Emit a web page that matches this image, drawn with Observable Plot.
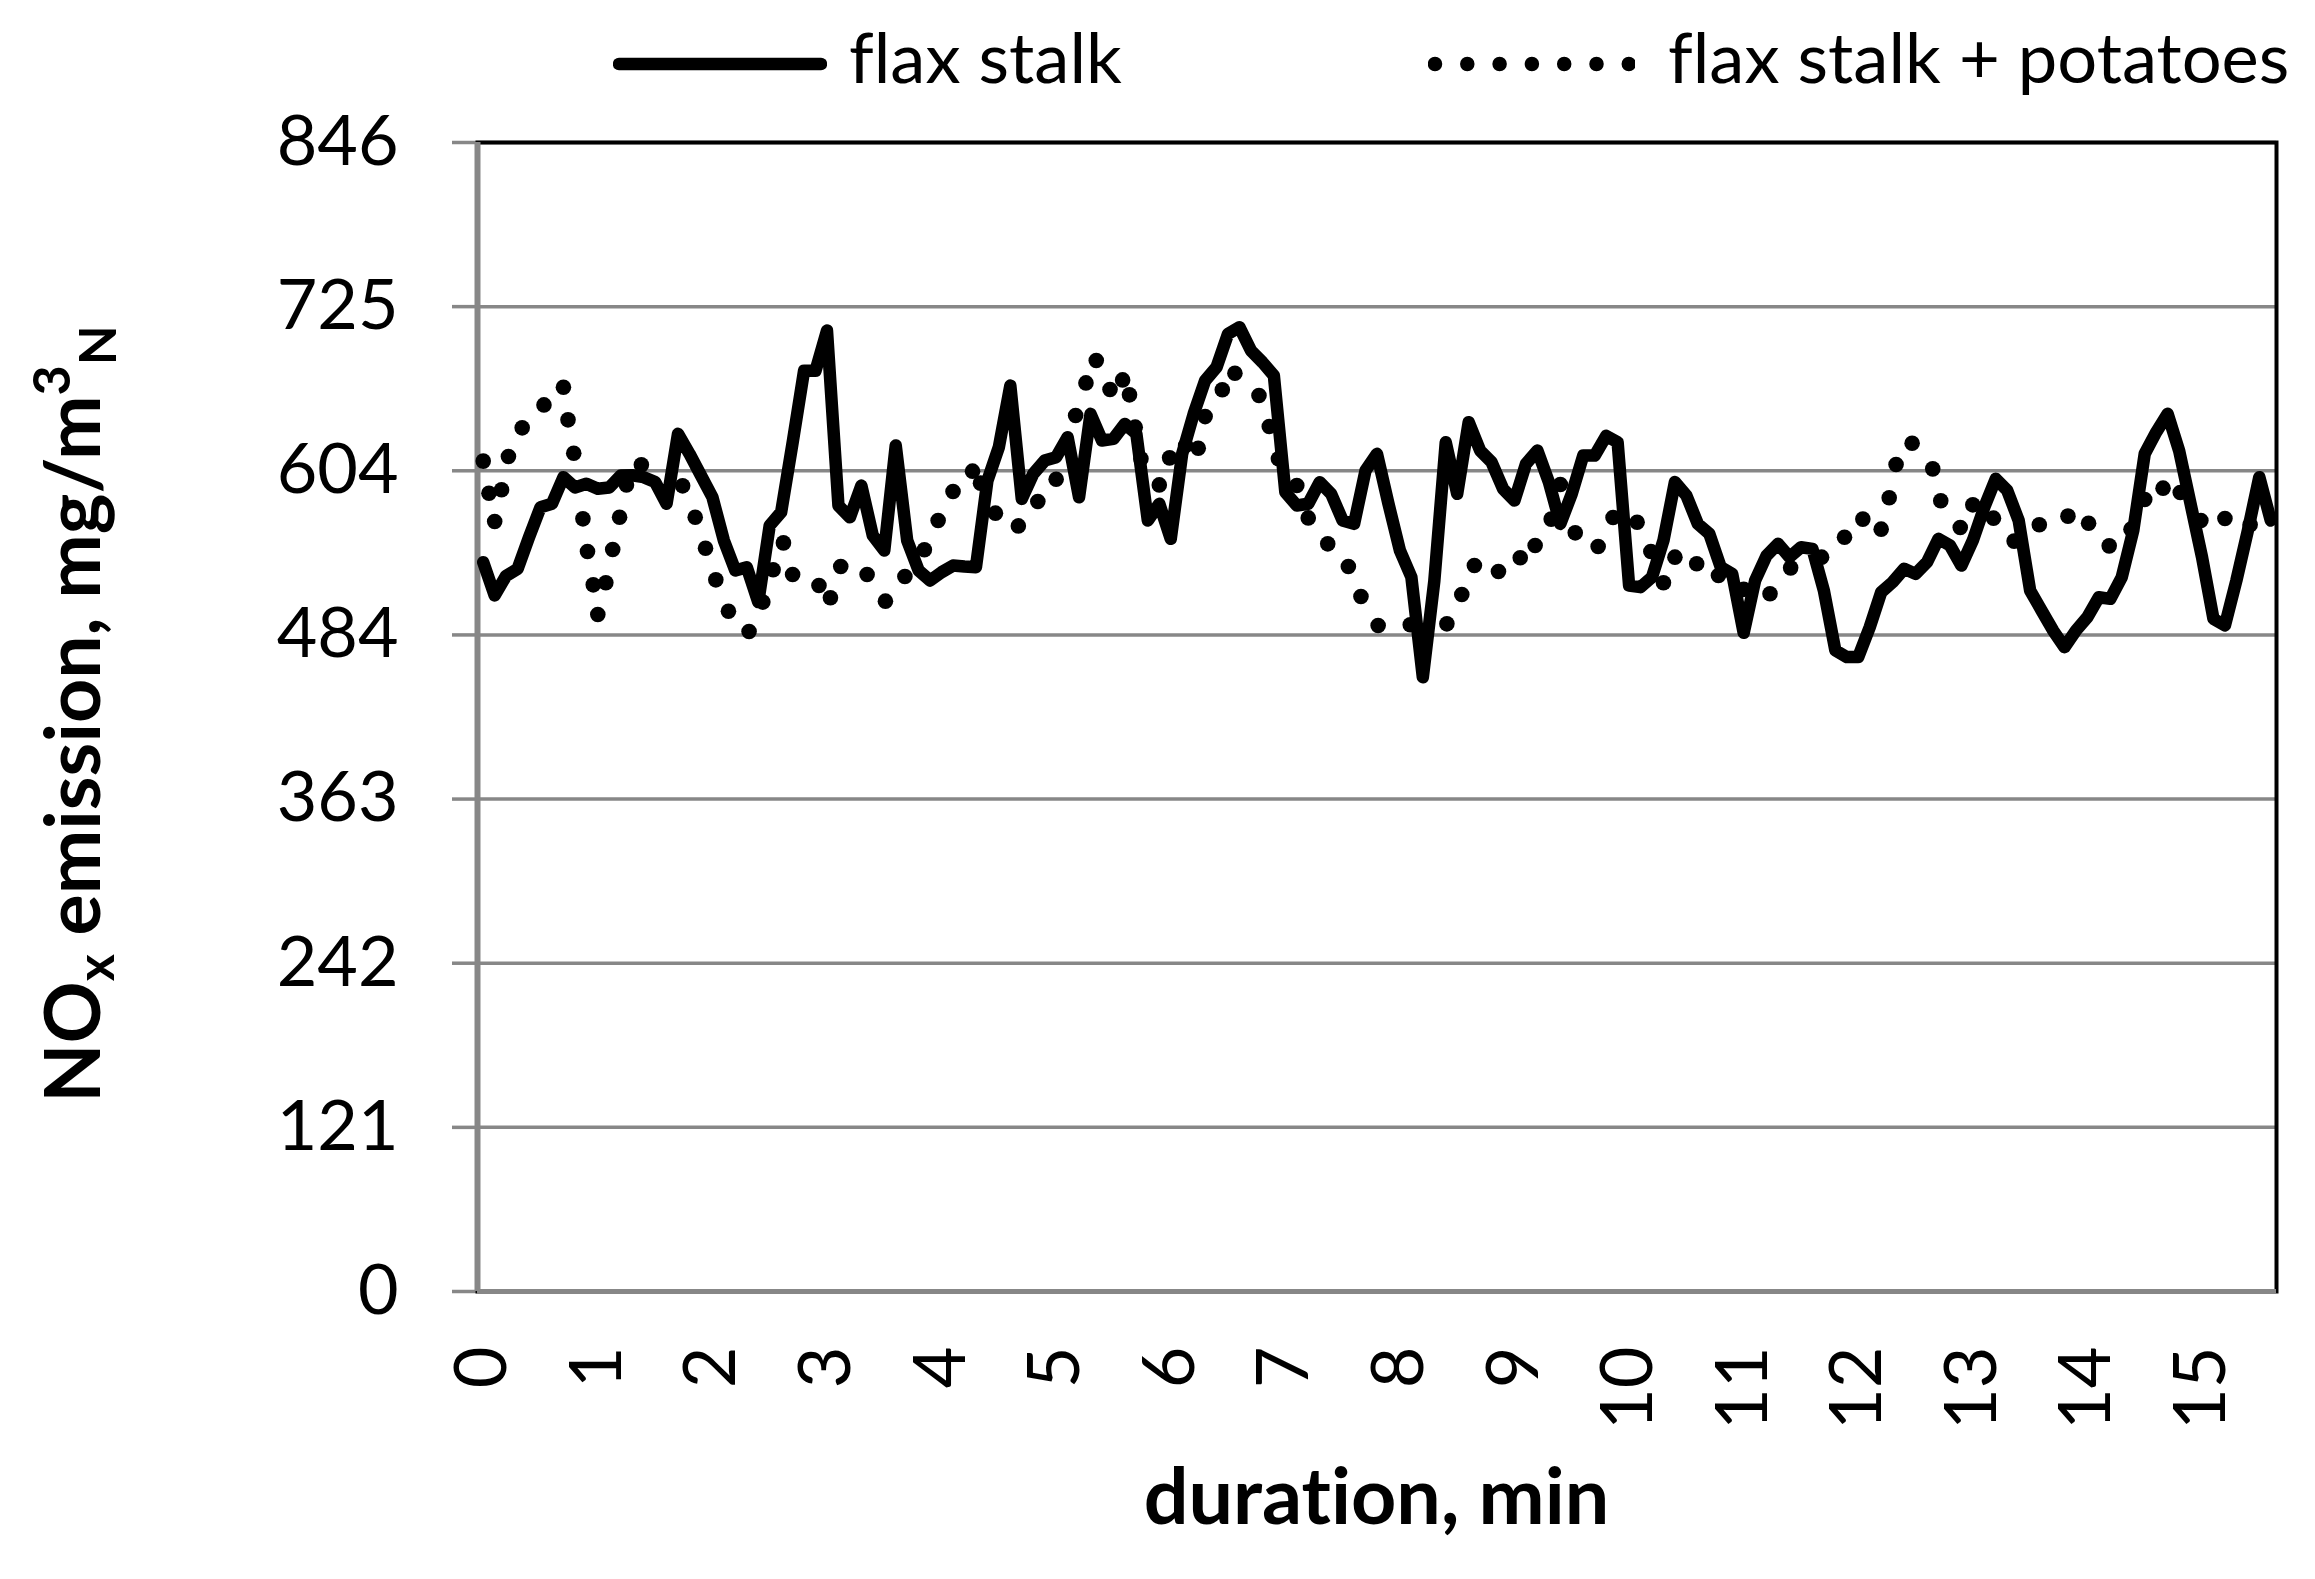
<!DOCTYPE html>
<html><head><meta charset="utf-8">
<script src="https://cdn.jsdelivr.net/npm/d3@7"></script>
<script src="https://cdn.jsdelivr.net/npm/@observablehq/plot@0.6"></script>
<style>
html,body{margin:0;padding:0;background:#fff;width:2315px;height:1579px;overflow:hidden;}
#legend{position:relative;width:2315px;height:110px;font-family:Lato,"Open Sans",sans-serif;font-size:70.5px;color:#000;}
#legend .sw{position:absolute;}
#legend .lab{position:absolute;line-height:1;white-space:nowrap;top:21px;}
#chart svg{display:block;}
*{font-variant-ligatures:none;font-feature-settings:"liga" 0;}
</style></head><body>
<div id="legend"></div>
<div id="chart"></div>
<script>
// ---- data ----
const seriesNames = ["flax stalk", "flax stalk + potatoes"];
const timeStep = 0.1; // min between readings of "flax stalk"
const flaxStalk = [
537,512.5,527,532,555.4,577.5,580,599.6,592,594.7,
591,592,600.8,601,599.6,596,580,631.5,616.8,600.8,
584.9,553,530.9,533.3,507.6,564,573.8,625,678,678,
707.5,578.7,570,593.4,556.6,545.6,622.9,553,530.9,523.5,
529.6,534.5,533.8,533.3,597,621.7,667,583.6,602,611.8,
614.3,629,584.8,646.2,626.6,627.8,638.8,631.5,567.7,580,
554.2,616.8,646.2,670.7,680.6,705.1,710,692.8,684.2,674.4,
588.5,578.7,580,595.9,587.3,567.7,565.2,604.5,616.8,580,
545.6,526,452.3,523,625.3,587.3,640.1,619.2,610.6,591,
582.4,609.4,619.2,595.9,565.2,587.4,615.5,615.5,630,625.3,
519.8,518.6,526,553,596,586.1,565.2,557.9,533.3,528.4,
485,523.5,541.9,550.5,540.7,548,546.8,516.1,472,467.1,
467.1,489.1,514.9,522.3,532.1,528.4,537,554.2,549.3,534.5,
553,577.5,598.4,589.8,567.7,516.1,501.4,486.7,474.4,486.7,
496.5,511.2,510,526,560.3,616.8,632.7,646.2,619.2,580,
540.7,495.3,490.4,523.5,560.3,599.6,567.7
];
const potatoesTime = [
0.00,0.05,0.10,0.16,0.22,0.34,0.53,0.70,0.74,0.79,
0.87,0.91,0.96,1.00,1.07,1.13,1.19,1.25,1.38,1.74,
1.85,1.94,2.03,2.14,2.32,2.44,2.53,2.62,2.70,2.93,
3.03,3.12,3.35,3.51,3.68,3.85,3.97,4.10,4.27,4.34,
4.47,4.67,4.84,5.00,5.17,5.26,5.35,5.47,5.58,5.64,
5.69,5.74,5.90,5.99,6.13,6.24,6.30,6.45,6.56,6.77,
6.86,6.94,7.10,7.20,7.37,7.55,7.66,7.81,8.09,8.41,
8.54,8.65,8.86,9.05,9.18,9.32,9.40,9.53,9.73,9.86,
10.07,10.19,10.30,10.40,10.59,10.78,11.00,11.23,11.41,11.68,
11.88,12.04,12.20,12.27,12.33,12.47,12.65,12.72,12.89,13.00,
13.18,13.36,13.58,13.83,14.01,14.19,14.38,14.50,14.66,14.81,
14.99,15.20,15.42
];
const potatoesValue = [
611.4,587.8,566.9,590.3,614.8,635.9,652.8,665.8,641.8,617.2,
568.9,544.9,520.3,498.5,521.8,546.3,570.1,593.9,608.7,593.2,
570.1,547.3,524,500.9,486,507.6,531.4,551.2,527.9,519.8,
510.8,533.8,527.9,508.3,526.4,546.1,567.7,589,604,595.2,
573.1,563.7,581.7,598.1,645,669,685.5,664.1,671.2,660.2,
636.4,613.1,593.9,613.8,622.9,620.9,644.2,663.9,676.1,659.7,
636.9,613.1,593.4,569.6,550.5,533.8,511.7,490.4,490.9,491.6,
513.2,534.5,530.1,540.2,549.3,568.7,594.2,558.6,548.5,569.9,
566.4,544.9,521.8,540.7,535.8,527.2,517,513.7,532.8,540.7,
555.4,568.7,561.3,584.4,608.9,624.6,605.7,582.2,562.5,579.2,
569.4,552.5,564.5,570.9,565.7,549,561.3,583.1,591.5,588.3,
567.7,569.1,564.5
];
const xTickValues = [0,1,2,3,4,5,6,7,8,9,10,11,12,13,14,15];
const yMax = 846;
const yTickLabels = ["0","121","242","363","484","604","725","846"];
const xTitle = "duration, min";

// ---- build tables ----
const flaxData = flaxStalk.map((v, i) => ({t: +(i * timeStep).toFixed(2), v}));
const potData = potatoesTime.map((t, i) => ({t, v: potatoesValue[i]}));
const yTickValues = yTickLabels.map((_, i) => i * yMax / (yTickLabels.length - 1));
const yLabelMap = new Map(yTickValues.map((d, i) => [d, yTickLabels[i]]));
const xMin = -timeStep / 2, xMax = (flaxStalk.length - 1) * timeStep + timeStep / 2;

const GRID = "#878787";
const W = 2315, H = 1469;

const plot = Plot.plot({
  width: W, height: H,
  marginLeft: 477, marginRight: 39, marginTop: 32, marginBottom: 288,
  style: {fontFamily: "Lato, 'Open Sans', sans-serif", fontSize: "70px", color: "#000", background: "#fff", overflow: "visible"},
  x: {domain: [xMin, xMax], label: null},
  y: {domain: [0, yMax], label: null},
  marks: [
    Plot.gridY(yTickValues, {stroke: GRID, strokeOpacity: 1, strokeWidth: 3.5}),
    Plot.axisY(yTickValues, {tickFormat: d => yLabelMap.get(d), tickSize: 25, tickPadding: 54, stroke: GRID, strokeWidth: 3.5, fontSize: 70, label: null}),
    Plot.axisX(xTickValues, {tickFormat: d => String(d), tickSize: 0, tickPadding: 55, tickRotate: -90, fontSize: 72, label: null}),
    Plot.frame({stroke: "#000", strokeWidth: 4}),
    Plot.ruleX([xMin], {stroke: GRID, strokeWidth: 6}),
    Plot.ruleY([0], {stroke: GRID, strokeWidth: 5}),
    Plot.line(flaxData, {x: "t", y: "v", stroke: "#000", strokeWidth: 12.5, strokeLinejoin: "round", strokeLinecap: "round"}),
    Plot.dot(potData, {x: "t", y: "v", r: 7.8, fill: "#000", stroke: "none"})
  ]
});
document.getElementById("chart").appendChild(plot);

// axis titles
const svg = d3.select(plot);
svg.append("text")
  .attr("x", (477 + (W - 39)) / 2).attr("y", 1414)
  .attr("text-anchor", "middle")
  .style("font", "bold 79px Lato, 'Open Sans', sans-serif")
  .style("font-variant-ligatures", "none")
  .text(xTitle);
const yt = svg.append("text")
  .attr("transform", "translate(100,604) rotate(-90)")
  .attr("text-anchor", "middle")
  .style("font", "bold 77px Lato, 'Open Sans', sans-serif")
  .style("font-variant-ligatures", "none");
yt.append("tspan").text("NO");
yt.append("tspan").attr("font-size", 52).attr("dy", 14).text("x");
yt.append("tspan").attr("dy", -14).text(" emission, mg/m");
yt.append("tspan").attr("font-size", 52).attr("dy", -30).text("3");
yt.append("tspan").attr("font-size", 52).attr("dy", 46).text("N");

// legend
const leg = document.getElementById("legend");
const NS = "http://www.w3.org/2000/svg";
function swatch(left, width, solid) {
  const s = document.createElementNS(NS, "svg");
  s.setAttribute("class", "sw");
  s.setAttribute("width", width); s.setAttribute("height", 20);
  s.style.left = left + "px"; s.style.top = (63.5 - 10) + "px";
  const l = document.createElementNS(NS, "line");
  l.setAttribute("y1", 10); l.setAttribute("y2", 10);
  l.setAttribute("stroke", "#000"); l.setAttribute("stroke-linecap", "round");
  if (solid) {
    l.setAttribute("x1", 6); l.setAttribute("x2", width - 6);
    l.setAttribute("stroke-width", 12.5);
  } else {
    l.setAttribute("x1", 7); l.setAttribute("x2", width - 5);
    l.setAttribute("stroke-width", 14.5);
    l.setAttribute("stroke-dasharray", "0 32.3");
  }
  s.appendChild(l);
  leg.appendChild(s);
}
function label(left, text) {
  const d = document.createElement("div");
  d.className = "lab"; d.style.left = left + "px"; d.textContent = text;
  leg.appendChild(d);
}
swatch(613, 214, true); label(849, seriesNames[0]);
swatch(1428, 207, false); label(1668, seriesNames[1]);
</script>
</body></html>
